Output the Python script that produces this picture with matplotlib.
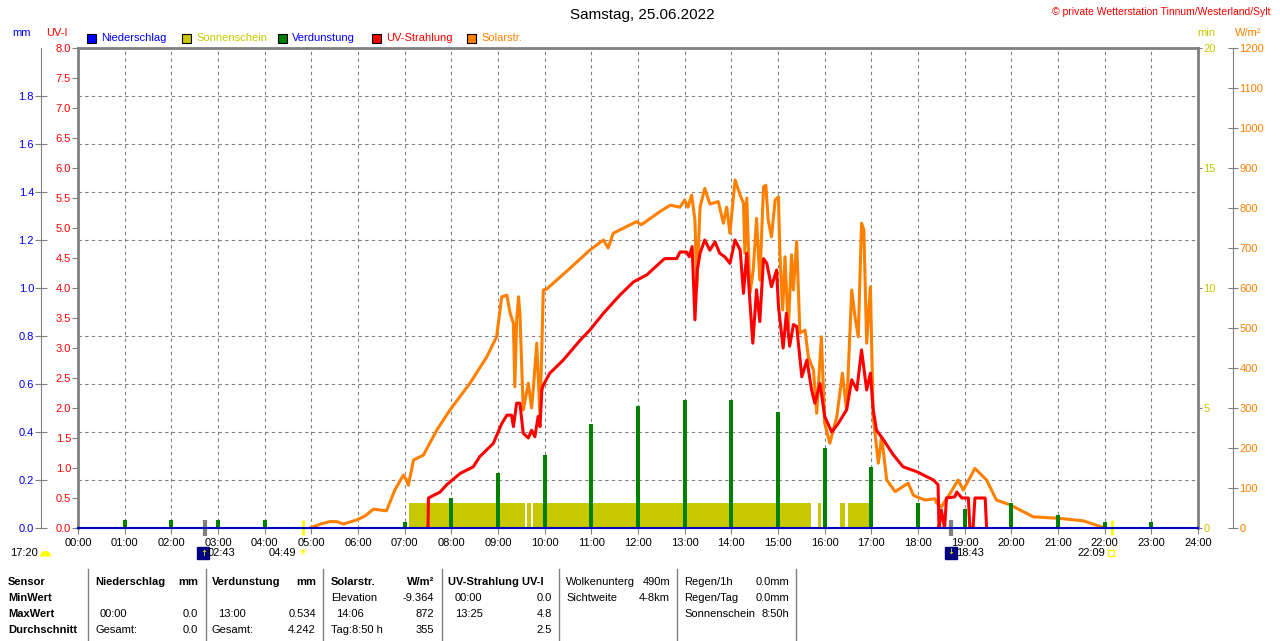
import matplotlib
matplotlib.use('Agg')
import matplotlib.pyplot as plt
from matplotlib.ticker import MultipleLocator
from matplotlib.lines import Line2D
from matplotlib.patches import Rectangle
from matplotlib.transforms import blended_transform_factory

plt.rcParams['font.family'] = ['Liberation Sans', 'DejaVu Sans']

# --- Solarstrahlung (W/m2), Zeit in Stunden
solar_t = [4.97, 5.2, 5.4, 5.54, 5.69, 5.97, 6.15, 6.33, 6.61, 6.79, 6.97, 7.04, 7.08, 7.19, 7.4,
           7.69, 7.97, 8.4, 8.76, 8.97, 9.08, 9.19, 9.26, 9.33, 9.36, 9.4, 9.44, 9.47, 9.54, 9.65,
           9.72, 9.76, 9.83, 9.9, 9.94, 9.97, 10.04, 10.26, 10.54, 10.97, 11.26, 11.36, 11.47, 11.97,
           12.07, 12.47, 12.69, 12.9, 13.0, 13.07, 13.15, 13.22, 13.26, 13.33, 13.43, 13.54, 13.72,
           13.83, 13.9, 13.97, 14.08, 14.19, 14.26, 14.29, 14.33, 14.4, 14.47, 14.54, 14.61, 14.69,
           14.74, 14.79, 14.86, 14.94, 15.01, 15.04, 15.1, 15.15, 15.22, 15.29, 15.33, 15.4, 15.47,
           15.58, 15.65, 15.76, 15.83, 15.93, 16.0, 16.11, 16.26, 16.38, 16.47, 16.58, 16.65, 16.72,
           16.79, 16.84, 16.9, 16.98, 17.04, 17.15, 17.22, 17.33, 17.51, 17.79, 17.9, 17.97, 18.15,
           18.36, 18.4, 18.5, 18.69, 18.86, 18.97, 19.22, 19.47, 19.68, 19.97, 20.47, 21.04, 21.54,
           21.93, 22.0]
solar_v = [0, 10, 16, 16, 10, 20, 30, 47, 43, 95, 132, 120, 107, 170, 182,
           245, 295, 362, 428, 478, 578, 582, 537, 512, 353, 520, 578, 537, 295, 362,
           300, 352, 462, 278, 455, 595, 597, 620, 649, 695, 720, 700, 737, 766,
           758, 791, 807, 802, 820, 802, 832, 770, 603, 802, 849, 810, 816,
           762, 802, 737, 870, 832, 812, 687, 825, 587, 645, 774, 620, 853,
           857, 770, 728, 820, 828, 687, 545, 678, 495, 683, 595, 716, 487,
           495, 428, 395, 287, 478, 262, 212, 278, 387, 295, 595, 528, 478,
           762, 745, 462, 603, 278, 162, 228, 120, 91, 112, 82, 78, 70,
           73, 62, 53, 87, 120, 95, 149, 120, 70, 58, 28, 24, 18,
           3, 0]

# --- UV-Strahlung (UV-I)
uv_t = [7.5, 7.51, 7.76, 7.9, 8.19, 8.47, 8.61, 8.9, 9.08, 9.19, 9.29, 9.33, 9.4, 9.47, 9.54,
        9.65, 9.72, 9.79, 9.86, 9.9, 9.94, 9.97, 10.11, 10.4, 10.76, 10.97, 11.26, 11.61, 11.9,
        12.19, 12.54, 12.58, 12.83, 12.9, 13.04, 13.1, 13.16, 13.22, 13.27, 13.33, 13.43, 13.54,
        13.65, 13.75, 13.86, 13.97, 14.08, 14.19, 14.26, 14.33, 14.4, 14.46, 14.54, 14.61, 14.69,
        14.76, 14.86, 14.97, 15.01, 15.11, 15.18, 15.25, 15.33, 15.4, 15.51, 15.62, 15.72, 15.79,
        15.9, 16.0, 16.15, 16.29, 16.47, 16.58, 16.69, 16.79, 16.9, 16.98, 17.04, 17.11, 17.26,
        17.47, 17.68, 17.97, 18.33, 18.43, 18.45, 18.5, 18.57, 18.61, 18.79, 18.83, 18.94, 19.08,
        19.11, 19.18, 19.22, 19.44, 19.47]
uv_v = [0, 0.5, 0.6, 0.72, 0.91, 1.02, 1.19, 1.41, 1.74, 1.88, 1.88, 1.69, 2.08, 2.08, 1.58,
        1.5, 1.63, 1.52, 1.86, 1.69, 2.3, 2.38, 2.58, 2.8, 3.13, 3.3, 3.58, 3.88, 4.1,
        4.22, 4.47, 4.49, 4.49, 4.6, 4.6, 4.52, 4.69, 3.47, 4.3, 4.58, 4.8, 4.63,
        4.77, 4.58, 4.52, 4.41, 4.8, 4.63, 3.91, 4.58, 3.75, 3.08, 3.97, 3.44, 4.49,
        4.41, 4.02, 4.3, 3.69, 3.0, 3.58, 3.03, 3.39, 3.36, 2.52, 2.8, 2.3, 2.08,
        2.41, 1.86, 1.6, 1.74, 1.97, 2.47, 2.3, 2.97, 2.3, 2.58, 1.97, 1.63, 1.47,
        1.22, 1.02, 0.94, 0.8, 0.72, 0, 0.3, 0, 0.5, 0.52, 0.6, 0.5, 0.5,
        0, 0, 0.5, 0.5, 0]

# --- Sonnenschein (Minuten), Intervalle
sun_start = [7.1, 9.63, 9.74, 15.86, 16.33, 16.49]
sun_end = [9.58, 9.7, 15.7, 15.93, 16.44, 17.04]
sun_min = 1.05

# --- Verdunstung (mm)
evap_h = [1, 2, 3, 4, 7, 8, 9, 10, 11, 12, 13, 14, 15, 16, 17, 18, 19, 20, 21, 22, 23]
evap_mm = [0.033, 0.033, 0.033, 0.033, 0.025, 0.124, 0.23, 0.304, 0.433, 0.51, 0.534, 0.533,
           0.485, 0.332, 0.255, 0.103, 0.078, 0.103, 0.054, 0.026, 0.026]

# --- Niederschlag (mm)
rain_h = [0, 24]
rain_mm = [0.0, 0.0]

hour_labels = ['%02d:00' % h for h in range(25)]

# Astro-Ereignisse unter der Achse
events = ['02:43', '04:49', '18:43', '22:09']

W, H = 1280, 641
def fx(px):
    return px / W
def fy(py):
    return 1 - py / H

OLIVE = '#c8c800'
ORANGE = '#ff8000'
GREEN = '#008000'
GRAY = '#808080'

fig = plt.figure(figsize=(12.8, 6.41), dpi=100)
host = fig.add_axes([fx(78), fy(528), (1198 - 78) / W, 480 / H])
ax_sol = host.twinx()
ax_uv = host.twinx()
ax_mm = host.twinx()

# Sonnenschein auf Hauptachse (min)
host.broken_barh([(s, e - s) for s, e in zip(sun_start, sun_end)], (0, sun_min),
                 facecolor=OLIVE, edgecolor='none')
host.set_xlim(0, 24)
host.set_ylim(0, 20)
host.set_xticks(range(25))
host.set_xticklabels(hour_labels, fontsize=8)
host.yaxis.tick_right()
host.set_yticks([0, 5, 10, 15, 20])
host.tick_params(axis='y', colors=GRAY, labelcolor=OLIVE, labelsize=8, length=3, pad=1)
host.tick_params(axis='x', colors=GRAY, labelcolor='black', length=4, pad=3)
host.yaxis.set_minor_locator(MultipleLocator(2))
host.tick_params(axis='y', which='minor', length=0)
host.grid(axis='x', which='major', color=GRAY, ls=(0, (3, 3)), lw=0.8)
host.grid(axis='y', which='minor', color=GRAY, ls=(0, (3, 3)), lw=0.8)
for s in ['left', 'top', 'right']:
    host.spines[s].set_color(GRAY)
    host.spines[s].set_linewidth(2)
host.spines['bottom'].set_color(GRAY)

# Solarstrahlung
ax_sol.plot(solar_t, solar_v, color=ORANGE, lw=2.2)
ax_sol.set_ylim(0, 1200)
ax_sol.set_yticks(range(0, 1201, 100))
ax_sol.spines['right'].set_position(('axes', 1 + 35 / 1120))
for s in ['left', 'top', 'bottom']:
    ax_sol.spines[s].set_visible(False)
ax_sol.spines['right'].set_color(GRAY)
ax_sol.tick_params(axis='y', colors=GRAY, labelcolor=ORANGE, labelsize=8,
                   direction='inout', length=7, pad=1)

# UV
ax_uv.plot(uv_t, uv_v, color='red', lw=2.2)
ax_uv.set_ylim(0, 8)
ax_uv.yaxis.tick_left()
ax_uv.set_yticks([i * 0.5 for i in range(17)])
ax_uv.set_yticklabels(['%.1f' % (i * 0.5) for i in range(17)])
ax_uv.tick_params(axis='y', colors=GRAY, labelcolor='red', labelsize=8, length=4, pad=1)
for s in ax_uv.spines.values():
    s.set_visible(False)

# Verdunstung + Niederschlag
ax_mm.bar(evap_h, evap_mm, width=0.08, color=GREEN)
ax_mm.plot(rain_h, rain_mm, color='#0000c0', lw=1.5, clip_on=False)
ax_mm.set_ylim(0, 2.0)
ax_mm.yaxis.tick_left()
ax_mm.set_yticks([i * 0.2 for i in range(10)])
ax_mm.set_yticklabels(['%.1f' % (i * 0.2) for i in range(10)])
for s in ['right', 'top', 'bottom']:
    ax_mm.spines[s].set_visible(False)
ax_mm.spines['left'].set_position(('axes', -37 / 1120))
ax_mm.spines['left'].set_color(GRAY)
ax_mm.tick_params(axis='y', colors=GRAY, labelcolor='blue', labelsize=8,
                  direction='inout', length=8, pad=1)

# Ereignis-Markierungen
ev_h = [int(e[:2]) + int(e[3:]) / 60 for e in events]
tr = blended_transform_factory(host.transData, host.transAxes)
host.vlines([ev_h[0], ev_h[2]], -0.017, 0.017, transform=tr, color=GRAY, lw=3, clip_on=False)
host.vlines([ev_h[1], ev_h[3]], -0.015, 0.017, transform=tr, color='yellow', lw=2, clip_on=False)

# Titel und Beschriftungen
fig.text(fx(642), fy(15), 'Samstag, 25.06.2022', ha='center', va='center', fontsize=11)
fig.text(fx(1270), fy(12), '© private Wetterstation Tinnum/Westerland/Sylt', ha='right',
         va='center', color='red', fontsize=7.5)
fig.text(fx(22), fy(33), 'mm', color='blue', ha='center', va='center', fontsize=8)
fig.text(fx(57), fy(33), 'UV-I', color='red', ha='center', va='center', fontsize=8)
fig.text(fx(1206), fy(33), 'min', color=OLIVE, ha='center', va='center', fontsize=8)
fig.text(fx(1248), fy(33), 'W/m²', color=ORANGE, ha='center', va='center', fontsize=8)

legend = [('Niederschlag', 'blue', 'blue', 87), ('Sonnenschein', OLIVE, OLIVE, 182),
          ('Verdunstung', GREEN, 'blue', 278), ('UV-Strahlung', 'red', 'red', 372),
          ('Solarstr.', ORANGE, ORANGE, 467)]
for name, fc, tc, px in legend:
    fig.patches.append(Rectangle((fx(px), fy(43)), 9 / W, 9 / H, transform=fig.transFigure,
                                 facecolor=fc, edgecolor='black', lw=0.8))
    fig.text(fx(px + 14), fy(38), name, color=tc, ha='left', va='center', fontsize=8)

# Zeiten unter der Achse
fig.text(fx(10), fy(553), '17:20', ha='left', va='center', fontsize=8)
fig.add_artist(Line2D([fx(45)], [fy(556)], marker='o', ms=8, fillstyle='top',
                      markerfacecolor='yellow', markerfacecoloralt='none', mew=0,
                      transform=fig.transFigure))
fig.add_artist(Line2D([fx(203)], [fy(553)], marker='s', ms=8, color='#000080',
                      transform=fig.transFigure))
fig.text(fx(204), fy(554), '↑', color='yellow', ha='center', va='center', fontsize=6,
         family='DejaVu Sans')
fig.text(fx(208), fy(553), '02:43', ha='left', va='center', fontsize=8)
fig.text(fx(296), fy(553), '04:49', ha='right', va='center', fontsize=8)
fig.text(fx(302), fy(553), '☀', color='yellow', ha='center', va='center', fontsize=8,
         family='DejaVu Sans')
fig.add_artist(Line2D([fx(951)], [fy(553)], marker='s', ms=8, color='#000080',
                      transform=fig.transFigure))
fig.text(fx(951), fy(552), '↓', color='yellow', ha='center', va='center', fontsize=6,
         family='DejaVu Sans')
fig.text(fx(956), fy(553), '18:43', ha='left', va='center', fontsize=8)
fig.text(fx(1105), fy(553), '22:09', ha='right', va='center', fontsize=8)
fig.add_artist(Line2D([fx(1111)], [fy(553)], marker='s', ms=4, mfc='none', mec='yellow',
                      transform=fig.transFigure))

# Tabelle unten
rows_y = [582, 598, 614, 630]
for px in [88, 206, 323, 442, 559, 677, 796]:
    fig.add_artist(Line2D([fx(px), fx(px)], [fy(569), fy(641)], color=GRAY, lw=1,
                          transform=fig.transFigure))

cells = [
    (8, 0, 'Sensor', 'left', True), (8, 1, 'MinWert', 'left', True),
    (8, 2, 'MaxWert', 'left', True), (8, 3, 'Durchschnitt', 'left', True),
    (95, 0, 'Niederschlag', 'left', True), (198, 0, 'mm', 'right', True),
    (100, 2, '00:00', 'left', False), (198, 2, '0.0', 'right', False),
    (95, 3, 'Gesamt:', 'left', False), (198, 3, '0.0', 'right', False),
    (212, 0, 'Verdunstung', 'left', True), (316, 0, 'mm', 'right', True),
    (218, 2, '13:00', 'left', False), (316, 2, '0.534', 'right', False),
    (212, 3, 'Gesamt:', 'left', False), (316, 3, '4.242', 'right', False),
    (331, 0, 'Solarstr.', 'left', True), (434, 0, 'W/m²', 'right', True),
    (331, 1, 'Elevation', 'left', False), (434, 1, '-9.364', 'right', False),
    (336, 2, '14:06', 'left', False), (434, 2, '872', 'right', False),
    (331, 3, 'Tag:8:50 h', 'left', False), (434, 3, '355', 'right', False),
    (448, 0, 'UV-Strahlung UV-I', 'left', True),
    (455, 1, '00:00', 'left', False), (552, 1, '0.0', 'right', False),
    (455, 2, '13:25', 'left', False), (552, 2, '4.8', 'right', False),
    (552, 3, '2.5', 'right', False),
    (566, 0, 'Wolkenunterg', 'left', False), (670, 0, '490m', 'right', False),
    (566, 1, 'Sichtweite', 'left', False), (670, 1, '4-8km', 'right', False),
    (684, 0, 'Regen/1h', 'left', False), (789, 0, '0.0mm', 'right', False),
    (684, 1, 'Regen/Tag', 'left', False), (789, 1, '0.0mm', 'right', False),
    (684, 2, 'Sonnenschein', 'left', False), (789, 2, '8:50h', 'right', False),
]
for px, r, txt, ha, bold in cells:
    fig.text(fx(px), fy(rows_y[r]), txt, ha=ha, va='center', fontsize=8,
             fontweight='bold' if bold else 'normal')

fig.savefig('out.png', dpi=100)
